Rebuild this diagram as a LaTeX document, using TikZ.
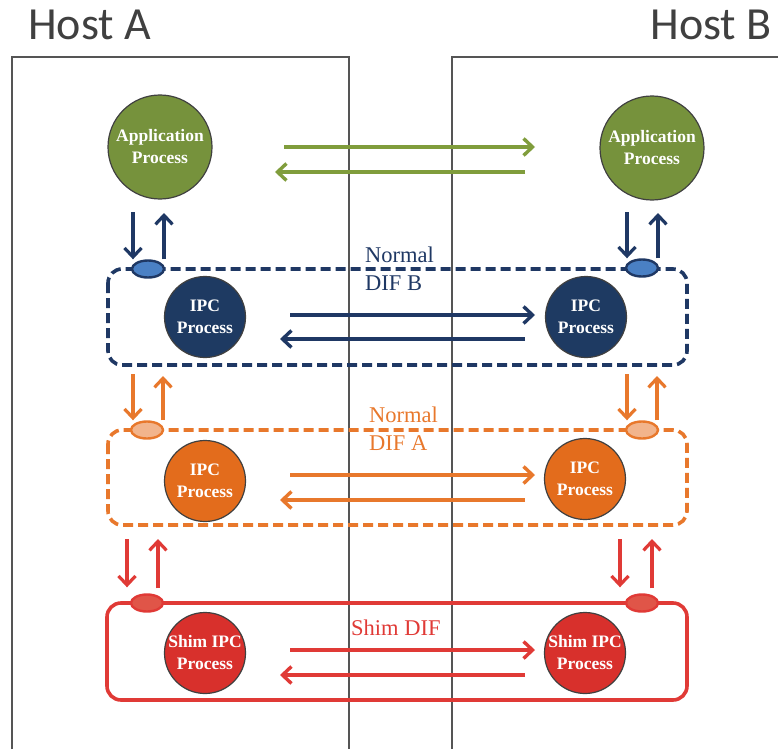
\documentclass[tikz,border=0pt]{standalone}
\usepackage{fontspec}
\setmainfont{Liberation Serif}
\newfontfamily\hostfont{Carlito}
\usetikzlibrary{arrows.meta,shapes.geometric,calc}

\definecolor{hostgray}{HTML}{555555}
\definecolor{appgreen}{HTML}{76923C}
\definecolor{arrgreen}{HTML}{809D3C}
\definecolor{navy}{HTML}{1F3864}
\definecolor{navyfill}{HTML}{1E3A62}
\definecolor{portblue}{HTML}{4A80C4}
\definecolor{orng}{HTML}{E8782C}
\definecolor{orngfill}{HTML}{E36C1C}
\definecolor{portorng}{HTML}{F2B48C}
\definecolor{rd}{HTML}{E03A36}
\definecolor{rdfill}{HTML}{D8302C}
\definecolor{portred}{HTML}{E05548}

\tikzset{
  hostline/.style={draw=hostgray, line width=1.3pt},
  hosttitle/.style={font=\hostfont\fontsize{46}{46}\selectfont, text=black!75, inner sep=0pt},
  proc/.style={circle, draw=black!75, line width=1.2pt, inner sep=0pt, text=white,
    align=center, font=\bfseries\fontsize{17.5}{22}\selectfont},
  port/.style={ellipse, minimum width=32pt, minimum height=17pt, inner sep=0pt, line width=2.4pt},
  flow/.style={line width=3.4pt, -{Straight Barb[length=9pt,width=17pt,line width=3.4pt]}},
  vflow/.style={line width=3.2pt, -{Straight Barb[length=9pt,width=17pt,line width=3.2pt]}},
  difbox/.style={rounded corners=14pt, line width=3.6pt},
  diflabel/.style={font=\fontsize{22.5}{28}\selectfont, inner sep=0pt, anchor=base west}
}

\begin{document}
\begin{tikzpicture}[x=1pt,y=-1pt]
\useasboundingbox (0,0) rectangle (778,749);

% hosts
\node[hosttitle, anchor=base west] (hostA) at (28,40) {Host A};
\node[hosttitle, anchor=base east] (hostB) at (772,40) {Host B};
\draw[hostline] (12,749) -- (12,57) -- (349,57) -- (349,749);
\draw[hostline] (778,57) -- (452,57) -- (452,749);

% DIF boxes
\draw[difbox, navy, dash pattern=on 10pt off 5pt] (108,269) rectangle (687,365);
\draw[difbox, orng, dash pattern=on 10pt off 5pt] (108,430) rectangle (687,525);
\draw[difbox, rd] (107,603) rectangle (687,700);

% labels
\node[diflabel, text=navy] (nbA) at (365,262) {Normal};
\node[diflabel, text=navy] (nbB) at (365,290) {DIF B};
\node[diflabel, text=orng] (naA) at (369,422) {Normal};
\node[diflabel, text=orng] (naB) at (369,450) {DIF A};
\node[diflabel, text=rd] (shim) at (351,635) {Shim DIF};

% processes
\node[proc, fill=appgreen, minimum size=104pt] (appA) at (160,147) {Application\\Process};
\node[proc, fill=appgreen, minimum size=104pt] (appB) at (652,148) {Application\\Process};
\node[proc, fill=navyfill, minimum size=81pt] (ipcBA) at (205,317) {IPC\\Process};
\node[proc, fill=navyfill, minimum size=81pt] (ipcBB) at (586,317) {IPC\\Process};
\node[proc, fill=orngfill, minimum size=81pt] (ipcAA) at (205,481) {IPC\\Process};
\node[proc, fill=orngfill, minimum size=81pt] (ipcAB) at (585,479) {IPC\\Process};
\node[proc, fill=rdfill, minimum size=81pt] (shimA) at (205,653) {Shim IPC\\Process};
\node[proc, fill=rdfill, minimum size=81pt] (shimB) at (585,653) {Shim IPC\\Process};

% ports
\node[port, draw=navy, fill=portblue] (pBA) at (148,269) {};
\node[port, draw=navy, fill=portblue] (pBB) at (642,268) {};
\node[port, draw=orng, fill=portorng] (pAA) at (147,430) {};
\node[port, draw=orng, fill=portorng] (pAB) at (642,430) {};
\node[port, draw=rd, fill=portred] (pSA) at (147,603) {};
\node[port, draw=rd, fill=portred] (pSB) at (642,603) {};

% peer flows
\draw[flow, arrgreen] ($(appA)+(124,0)$) -- ($(appB)+(-117,-1)$);
\draw[flow, arrgreen] ($(appB)+(-127,24)$) -- ($(appA)+(115,25)$);
\draw[flow, navy] ($(ipcBA)+(85,-2)$) -- ($(ipcBB)+(-51,-2)$);
\draw[flow, navy] ($(ipcBB)+(-61,22)$) -- ($(ipcBA)+(75,22)$);
\draw[flow, orng] ($(ipcAA)+(85,-6)$) -- ($(ipcAB)+(-50,-4)$);
\draw[flow, orng] ($(ipcAB)+(-60,21)$) -- ($(ipcAA)+(75,19)$);
\draw[flow, rd] ($(shimA)+(85,-3)$) -- ($(shimB)+(-50,-3)$);
\draw[flow, rd] ($(shimB)+(-60,22)$) -- ($(shimA)+(75,22)$);

% vertical flows between layers
\coordinate (dBA) at (133,212); \coordinate (uBA) at (164,213);
\coordinate (dBB) at (627,212); \coordinate (uBB) at (658,213);
\draw[vflow, navy] (dBA) -- (dBA |- pBA.north);
\draw[vflow, navy] (uBA |- pBA.north) -- (uBA);
\draw[vflow, navy] (dBB) -- (dBB |- pBB.north);
\draw[vflow, navy] (uBB |- pBB.north) -- (uBB);

\coordinate (dAA) at (133,374); \coordinate (uAA) at (163,376);
\coordinate (dAB) at (627,374); \coordinate (uAB) at (657,376);
\draw[vflow, orng] (dAA) -- (dAA |- pAA.north);
\draw[vflow, orng] (uAA |- pAA.north) -- (uAA);
\draw[vflow, orng] (dAB) -- (dAB |- pAB.north);
\draw[vflow, orng] (uAB |- pAB.north) -- (uAB);

\coordinate (dSA) at (127,539); \coordinate (uSA) at (158,539);
\coordinate (dSB) at (620,539); \coordinate (uSB) at (652,539);
\draw[vflow, rd] (dSA) -- ($(dSA |- pSA.north)+(0,-6)$);
\draw[vflow, rd] ($(uSA |- pSA.north)+(0,-5)$) -- (uSA);
\draw[vflow, rd] (dSB) -- ($(dSB |- pSB.north)+(0,-6)$);
\draw[vflow, rd] ($(uSB |- pSB.north)+(0,-5)$) -- (uSB);
\end{tikzpicture}
\end{document}
